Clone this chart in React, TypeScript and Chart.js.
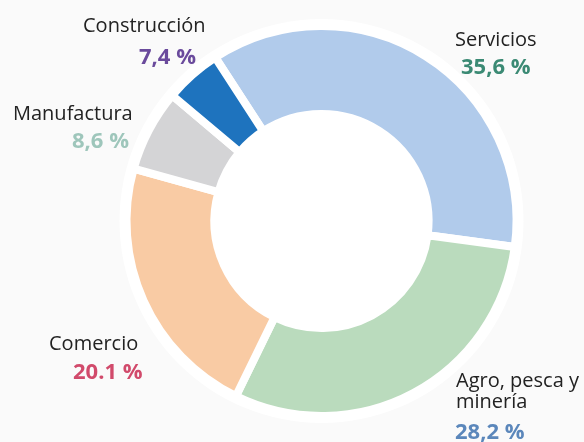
import React, { useEffect, useRef } from "react";
import { Chart, registerables } from "chart.js";

Chart.register(...registerables);

const categories = ["Servicios", "Agro, pesca y minería", "Comercio", "Manufactura", "Construcción"];
// slice sizes as drawn in the picture (share of the ring)
const sliceValues = [36.3, 30.1, 22.1, 6.8, 4.7];
// printed share labels
const shareLabels = ["35,6 %", "28,2 %", "20.1 %", "8,6 %", "7,4 %"];
const sliceColors = ["#b1cbeb", "#badbbd", "#f9cba4", "#d4d4d6", "#1e73be"];
const shareColors = ["#3b8a74", "#5b87bb", "#d14a6b", "#9ec6bb", "#6a4a9c"];

// label block placement (left, top of name, top of share), name lines
const labelLayout = [
  { nameLeft: 455, nameTop: 27, nameLines: ["Servicios"], shareLeft: 461, shareTop: 52.5 },
  { nameLeft: 456, nameTop: 369, nameLines: ["Agro, pesca y", "minería"], shareLeft: 455, shareTop: 417.5 },
  { nameLeft: 49, nameTop: 331, nameLines: ["Comercio"], shareLeft: 73, shareTop: 357.5 },
  { nameLeft: 13, nameTop: 101, nameLines: ["Manufactura"], shareLeft: 72, shareTop: 126.5 },
  { nameLeft: 83, nameTop: 13, nameLines: ["Construcción"], shareLeft: 139, shareTop: 42.5 },
];

const backdropPlugin = {
  id: "backdrop",
  beforeDatasetsDraw(chart: any) {
    const meta = chart.getDatasetMeta(0);
    const arc = meta.data[0];
    if (!arc) return;
    const ctx = chart.ctx;
    ctx.save();
    ctx.beginPath();
    ctx.arc(arc.x, arc.y, arc.outerRadius + 7, 0, Math.PI * 2);
    ctx.fillStyle = "#ffffff";
    ctx.fill();
    ctx.restore();
  },
};

export default function App() {
  const canvasRef = useRef<HTMLCanvasElement | null>(null);

  useEffect(() => {
    if (!canvasRef.current) return;
    const chart = new Chart(canvasRef.current, {
      type: "doughnut",
      data: {
        labels: categories,
        datasets: [
          {
            data: sliceValues,
            backgroundColor: sliceColors,
            borderColor: "#ffffff",
            borderWidth: 8,
            hoverOffset: 0,
          },
        ],
      },
      options: {
        responsive: false,
        animation: false,
        rotation: -33,
        radius: 195,
        cutout: "54.9%",
        layout: { padding: { left: 59, right: 0, top: 0, bottom: 0 } },
        plugins: {
          legend: { display: false },
          tooltip: { enabled: false },
        },
      },
      plugins: [backdropPlugin],
    } as any);
    return () => chart.destroy();
  }, []);

  return (
    <div
      style={{
        position: "fixed",
        left: 0,
        top: 0,
        width: 584,
        height: 442,
        background: "#fafafa",
        overflow: "hidden",
        fontFamily: "'Open Sans', sans-serif",
      }}
    >
      <canvas ref={canvasRef} width={584} height={442} style={{ position: "absolute", left: 0, top: 0 }} />
      {labelLayout.map((l, i) => (
        <React.Fragment key={categories[i]}>
          <div
            style={{
              position: "absolute",
              left: l.nameLeft,
              top: l.nameTop,
              fontSize: 20,
              lineHeight: l.nameLines.length > 1 ? "21px" : "24px",
              color: "#222222",
              whiteSpace: "nowrap",
            }}
          >
            {l.nameLines.map((t) => (
              <div key={t}>{t}</div>
            ))}
          </div>
          <div
            style={{
              position: "absolute",
              left: l.shareLeft,
              top: l.shareTop,
              fontSize: 22,
              lineHeight: "24px",
              fontWeight: 700,
              color: shareColors[i],
              whiteSpace: "nowrap",
            }}
          >
            {shareLabels[i]}
          </div>
        </React.Fragment>
      ))}
    </div>
  );
}
